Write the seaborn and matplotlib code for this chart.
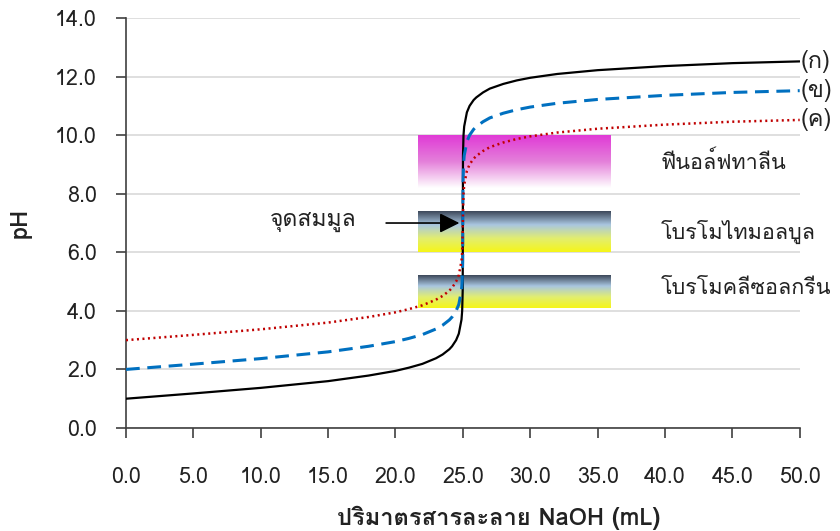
import numpy as np
import pandas as pd
import matplotlib
matplotlib.use('Agg')
import matplotlib.pyplot as plt
from matplotlib import font_manager, ft2font
from matplotlib.colors import LinearSegmentedColormap
import seaborn as sns

# ปริมาตร NaOH (mL) และ pH ของสามกราฟ
volume = [0, 5, 10, 15, 18, 20, 21, 22, 23, 23.5, 24, 24.2, 24.5, 24.7, 24.9, 24.95, 24.99,
          25, 25.01, 25.05, 25.1, 25.3, 25.5, 25.8, 26, 26.5, 27, 28, 29, 30, 32, 35,
          40, 45, 50]
ph_a = [1.00, 1.18, 1.37, 1.60, 1.79, 1.95, 2.06, 2.19, 2.38, 2.51, 2.69, 2.79, 3.00, 3.22,
        3.70, 4.00, 4.70, 7.00, 9.30, 10.00, 10.30, 10.78, 11.00, 11.20, 11.29, 11.46,
        11.59, 11.75, 11.87, 11.96, 12.09, 12.22, 12.36, 12.46, 12.52]
ph_b = [2.00, 2.18, 2.37, 2.60, 2.79, 2.95, 3.06, 3.19, 3.38, 3.51, 3.69, 3.79, 4.00, 4.22,
        4.70, 5.00, 5.70, 7.00, 8.30, 9.00, 9.30, 9.78, 10.00, 10.20, 10.29, 10.46,
        10.59, 10.75, 10.87, 10.96, 11.09, 11.22, 11.36, 11.46, 11.52]
ph_c = [3.00, 3.18, 3.37, 3.60, 3.79, 3.95, 4.06, 4.19, 4.38, 4.51, 4.69, 4.79, 5.00, 5.22,
        5.70, 6.00, 6.70, 7.00, 7.30, 8.00, 8.30, 8.78, 9.00, 9.20, 9.29, 9.46,
        9.59, 9.75, 9.87, 9.96, 10.09, 10.22, 10.36, 10.46, 10.52]
curve_names = ['(ก)', '(ข)', '(ค)']

# ช่วงเปลี่ยนสีของอินดิเคเตอร์
indicators = ['ฟีนอล์ฟทาลีน', 'โบรโมไทมอลบูล', 'โบรโมคลีซอลกรีน']
ind_low = [8.2, 6.0, 4.1]
ind_high = [10.0, 7.4, 5.2]

x_ticks = [0, 5, 10, 15, 20, 25, 30, 35, 40, 45, 50]
y_ticks = [0, 2, 4, 6, 8, 10, 12, 14]

# หาฟอนต์ที่มีอักษรไทย
thai_font = None
for f in font_manager.fontManager.ttflist:
    try:
        if 0x0E01 in ft2font.FT2Font(f.fname).get_charmap():
            thai_font = f.name
            break
    except Exception:
        pass

sns.set_theme(style='white')
fams = ['DejaVu Sans']
if thai_font:
    fams = [thai_font, 'DejaVu Sans']
plt.rcParams['font.family'] = fams

df = pd.DataFrame({'v': volume, 'a': ph_a, 'b': ph_b, 'c': ph_c})

fig, ax = plt.subplots(figsize=(8.4, 5.31), dpi=100)
fig.subplots_adjust(left=0.15, right=0.952, top=0.966, bottom=0.194)

# แถบสีอินดิเคเตอร์
grad = np.linspace(0, 1, 256).reshape(-1, 1)
cmaps = [
    LinearSegmentedColormap.from_list('php', ['#e03ad6', '#e480da', '#ffffff']),
    LinearSegmentedColormap.from_list('btb', ['#3c4759', '#a9c6e0', '#e2ee70', '#f6f618']),
    LinearSegmentedColormap.from_list('bcg', ['#3c4759', '#a9c6e0', '#e2ee70', '#f6f618']),
]
for lo, hi, cm in zip(ind_low, ind_high, cmaps):
    ax.imshow(grad, extent=[21.7, 36.0, lo, hi], aspect='auto', cmap=cm,
              origin='upper', zorder=1)

sns.lineplot(data=df, x='v', y='a', ax=ax, color='black', lw=1.6, estimator=None, zorder=3)
sns.lineplot(data=df, x='v', y='b', ax=ax, color='#0070c0', lw=2.2, estimator=None,
             zorder=3, linestyle=(0, (4.5, 2.5)))
sns.lineplot(data=df, x='v', y='c', ax=ax, color='#c00000', lw=1.8, estimator=None,
             zorder=3, linestyle=(0, (0.8, 1.4)))

for name, y in zip(curve_names, [ph_a[-1], ph_b[-1], ph_c[-1]]):
    ax.text(50.05, y, name, ha='left', va='center', fontsize=17, color='#222222')

for name, y in zip(indicators, [9.05, 6.7, 4.75]):
    ax.text(39.7, y, name, ha='left', va='center', fontsize=15.5, color='#222222')

ax.annotate('', xy=(24.95, 7.0), xytext=(19.1, 7.0),
            arrowprops=dict(arrowstyle='-|>', color='black', lw=1.2, mutation_scale=30),
            zorder=4)
ax.text(13.9, 7.05, 'จุดสมมูล', ha='center', va='center', fontsize=16.5, color='#222222')

ax.set_xlim(0, 50)
ax.set_ylim(0, 14)
ax.set_xticks(x_ticks)
ax.set_yticks(y_ticks)
ax.set_xticklabels([f'{t:.1f}' for t in x_ticks])
ax.set_yticklabels([f'{t:.1f}' for t in y_ticks])
ax.yaxis.grid(True, color='#d9d9d9', lw=1.2)
ax.set_axisbelow(True)
for s in ['top', 'right']:
    ax.spines[s].set_visible(False)
for s in ['left', 'bottom']:
    ax.spines[s].set_color('#404040')
    ax.spines[s].set_linewidth(1.2)
ax.tick_params(axis='both', direction='out', length=7, width=1.2, color='#404040',
               labelsize=15.5, labelcolor='#222222', bottom=True, left=True)
ax.tick_params(axis='x', pad=21)
ax.tick_params(axis='y', pad=14)

ax.set_xlabel('ปริมาตรสารละลาย NaOH (mL)', fontsize=17, fontweight='bold', color='#222222')
ax.set_ylabel('pH', fontsize=17, fontweight='bold', color='#222222')
ax.xaxis.set_label_coords(0.553, -0.19)
ax.yaxis.set_label_coords(-0.14, 0.5)

plt.savefig('out.png', dpi=100)
